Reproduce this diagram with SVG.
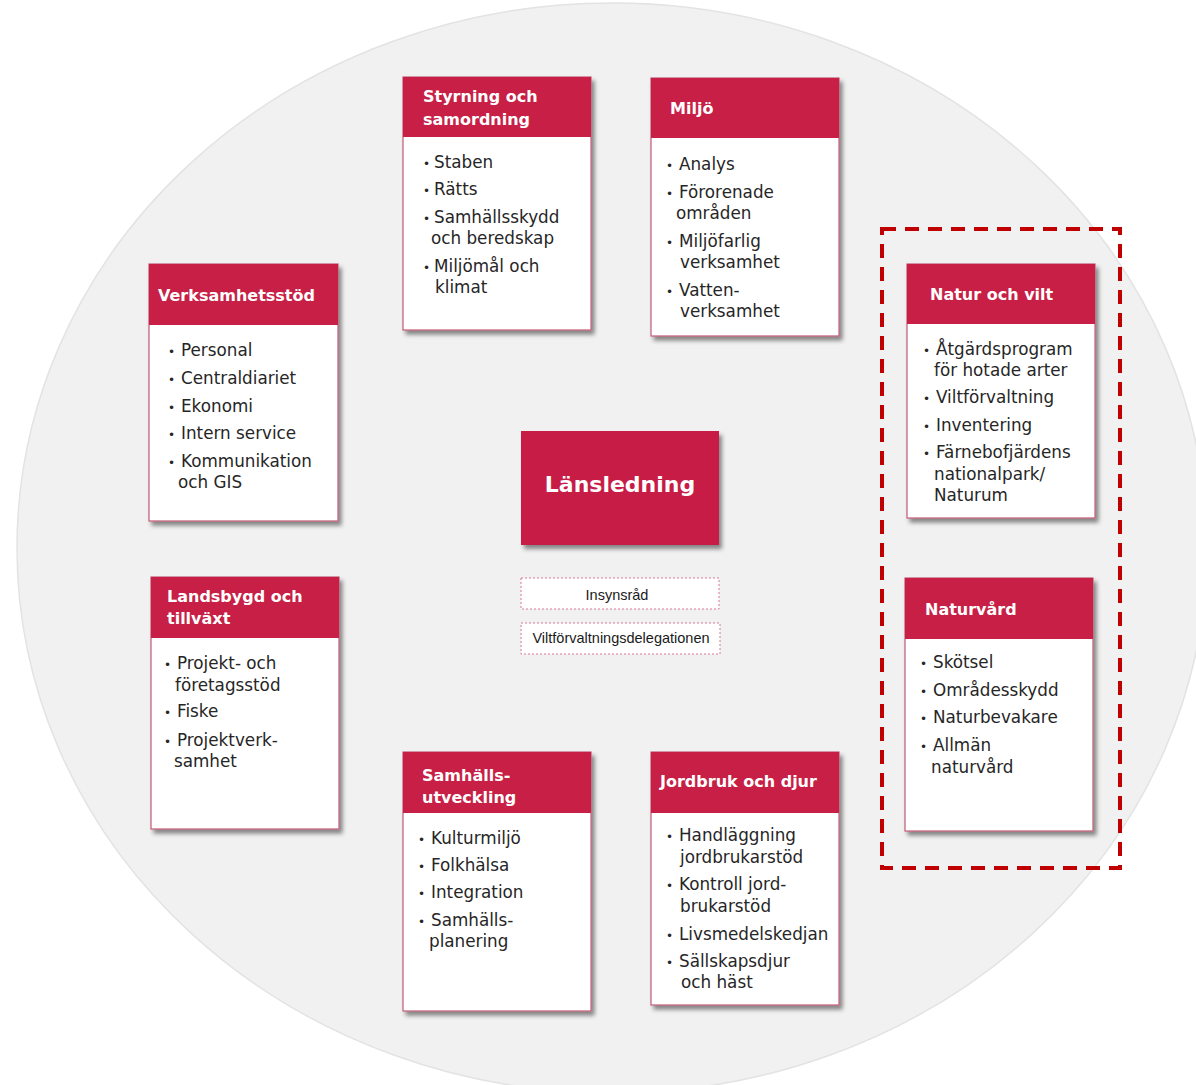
<svg xmlns="http://www.w3.org/2000/svg" width="1196" height="1085" viewBox="0 0 1196 1085">
<defs>
<filter id="sh" x="-10%" y="-10%" width="125%" height="125%">
<feDropShadow dx="3" dy="4" stdDeviation="2.2" flood-color="#000" flood-opacity="0.45"/>
</filter>
<style>
.body{fill:#ffffff;stroke:#bf5b76;stroke-width:1.2}
.hdr{fill:#c71f45}
.ht{font-family:"DejaVu Sans",sans-serif;font-weight:bold;font-size:16px;fill:#ffffff}
.it{font-family:"DejaVu Sans",sans-serif;font-size:16.8px;fill:#262626}
.bu{font-family:"DejaVu Sans",sans-serif;font-size:12px;fill:#262626}
.small{fill:#ffffff;stroke:#d47a92;stroke-width:1;stroke-dasharray:2 2}
.st{font-family:"Liberation Sans",Arial,sans-serif;font-size:14.5px;fill:#1a1a1a;text-anchor:middle}
</style>
</defs>
<rect width="1196" height="1085" fill="#ffffff"/>
<ellipse cx="612" cy="548" rx="595" ry="545" fill="#f1f1f1" stroke="#e3e3e3" stroke-width="1.5"/>

<g id="connectors"></g>

<g id="lansledning">
<rect x="521" y="431" width="198" height="114" class="hdr" filter="url(#sh)"/>
<text x="620" y="492" text-anchor="middle" font-family="DejaVu Sans,sans-serif" font-weight="bold" font-size="22px" fill="#ffffff">Länsledning</text>
</g>

<g id="insynsrad">
<rect x="521" y="578" width="198" height="31" class="small"/>
<text x="617" y="600" class="st">Insynsråd</text>
</g>

<g id="viltforvaltningsdelegationen">
<rect x="521" y="623" width="199" height="31" class="small"/>
<text x="621" y="643" class="st">Viltförvaltningsdelegationen</text>
</g>

<g id="verksamhetsstod">
<rect x="149" y="264" width="189" height="257" class="body" filter="url(#sh)"/>
<rect x="149" y="264" width="189" height="61" class="hdr"/>
<text x="158" y="301" class="ht">Verksamhetsstöd</text>
<text x="168" y="356" class="bu">•</text><text x="181" y="356" class="it">Personal</text>
<text x="168" y="384" class="bu">•</text><text x="181" y="384" class="it">Centraldiariet</text>
<text x="168" y="412" class="bu">•</text><text x="181" y="412" class="it">Ekonomi</text>
<text x="168" y="439" class="bu">•</text><text x="181" y="439" class="it">Intern service</text>
<text x="168" y="467" class="bu">•</text><text x="181" y="467" class="it">Kommunikation</text>
<text x="178" y="488" class="it">och GIS</text>
</g>

<g id="styrning">
<rect x="403" y="77" width="188" height="253" class="body" filter="url(#sh)"/>
<rect x="403" y="77" width="188" height="60" class="hdr"/>
<text x="423" y="102" class="ht">Styrning och</text>
<text x="423" y="125" class="ht">samordning</text>
<text x="423" y="168" class="bu">•</text><text x="434" y="168" class="it">Staben</text>
<text x="423" y="195" class="bu">•</text><text x="434" y="195" class="it">Rätts</text>
<text x="423" y="223" class="bu">•</text><text x="434" y="223" class="it">Samhällsskydd</text>
<text x="431" y="244" class="it">och beredskap</text>
<text x="423" y="272" class="bu">•</text><text x="434" y="272" class="it">Miljömål och</text>
<text x="435" y="293" class="it">klimat</text>
</g>

<g id="miljo">
<rect x="651" y="78" width="188" height="258" class="body" filter="url(#sh)"/>
<rect x="651" y="78" width="188" height="60" class="hdr"/>
<text x="670" y="114" class="ht">Miljö</text>
<text x="666" y="170" class="bu">•</text><text x="679" y="170" class="it">Analys</text>
<text x="666" y="198" class="bu">•</text><text x="679" y="198" class="it">Förorenade</text>
<text x="676" y="219" class="it">områden</text>
<text x="666" y="247" class="bu">•</text><text x="679" y="247" class="it">Miljöfarlig</text>
<text x="680" y="268" class="it">verksamhet</text>
<text x="666" y="296" class="bu">•</text><text x="679" y="296" class="it">Vatten-</text>
<text x="680" y="317" class="it">verksamhet</text>
</g>

<g id="natur-och-vilt">
<rect x="907" y="264" width="188" height="254" class="body" filter="url(#sh)"/>
<rect x="907" y="264" width="188" height="60" class="hdr"/>
<text x="930" y="300" class="ht">Natur och vilt</text>
<text x="923" y="355" class="bu">•</text><text x="936" y="355" class="it">Åtgärdsprogram</text>
<text x="934" y="376" class="it">för hotade arter</text>
<text x="923" y="403" class="bu">•</text><text x="936" y="403" class="it">Viltförvaltning</text>
<text x="923" y="431" class="bu">•</text><text x="936" y="431" class="it">Inventering</text>
<text x="923" y="458" class="bu">•</text><text x="936" y="458" class="it">Färnebofjärdens</text>
<text x="934" y="480" class="it">nationalpark/</text>
<text x="934" y="501" class="it">Naturum</text>
</g>

<g id="landsbygd">
<rect x="151" y="577" width="188" height="252" class="body" filter="url(#sh)"/>
<rect x="151" y="577" width="188" height="61" class="hdr"/>
<text x="167" y="602" class="ht">Landsbygd och</text>
<text x="167" y="624" class="ht">tillväxt</text>
<text x="164" y="669" class="bu">•</text><text x="177" y="669" class="it">Projekt- och</text>
<text x="175" y="691" class="it">företagsstöd</text>
<text x="164" y="717" class="bu">•</text><text x="177" y="717" class="it">Fiske</text>
<text x="164" y="746" class="bu">•</text><text x="177" y="746" class="it">Projektverk-</text>
<text x="174" y="767" class="it">samhet</text>
</g>

<g id="samhallsutveckling">
<rect x="403" y="752" width="188" height="259" class="body" filter="url(#sh)"/>
<rect x="403" y="752" width="188" height="61" class="hdr"/>
<text x="422" y="781" class="ht">Samhälls-</text>
<text x="422" y="803" class="ht">utveckling</text>
<text x="418" y="844" class="bu">•</text><text x="431" y="844" class="it">Kulturmiljö</text>
<text x="418" y="871" class="bu">•</text><text x="431" y="871" class="it">Folkhälsa</text>
<text x="418" y="898" class="bu">•</text><text x="431" y="898" class="it">Integration</text>
<text x="418" y="926" class="bu">•</text><text x="431" y="926" class="it">Samhälls-</text>
<text x="429" y="947" class="it">planering</text>
</g>

<g id="jordbruk">
<rect x="651" y="752" width="188" height="253" class="body" filter="url(#sh)"/>
<rect x="651" y="752" width="188" height="61" class="hdr"/>
<text x="660" y="787" class="ht">Jordbruk och djur</text>
<text x="666" y="841" class="bu">•</text><text x="679" y="841" class="it">Handläggning</text>
<text x="680" y="863" class="it">jordbrukarstöd</text>
<text x="666" y="890" class="bu">•</text><text x="679" y="890" class="it">Kontroll jord-</text>
<text x="680" y="912" class="it">brukarstöd</text>
<text x="666" y="940" class="bu">•</text><text x="679" y="940" class="it">Livsmedelskedjan</text>
<text x="666" y="967" class="bu">•</text><text x="679" y="967" class="it">Sällskapsdjur</text>
<text x="681" y="988" class="it">och häst</text>
</g>

<g id="naturvard">
<rect x="905" y="578" width="188" height="253" class="body" filter="url(#sh)"/>
<rect x="905" y="578" width="188" height="61" class="hdr"/>
<text x="925" y="615" class="ht">Naturvård</text>
<text x="920" y="668" class="bu">•</text><text x="933" y="668" class="it">Skötsel</text>
<text x="920" y="696" class="bu">•</text><text x="933" y="696" class="it">Områdesskydd</text>
<text x="920" y="723" class="bu">•</text><text x="933" y="723" class="it">Naturbevakare</text>
<text x="920" y="751" class="bu">•</text><text x="933" y="751" class="it">Allmän</text>
<text x="931" y="773" class="it">naturvård</text>
</g>

<g id="highlight">
<rect x="882" y="229" width="238" height="639" fill="none" stroke="#c00000" stroke-width="4" stroke-dasharray="14 9"/>
</g>
</svg>
